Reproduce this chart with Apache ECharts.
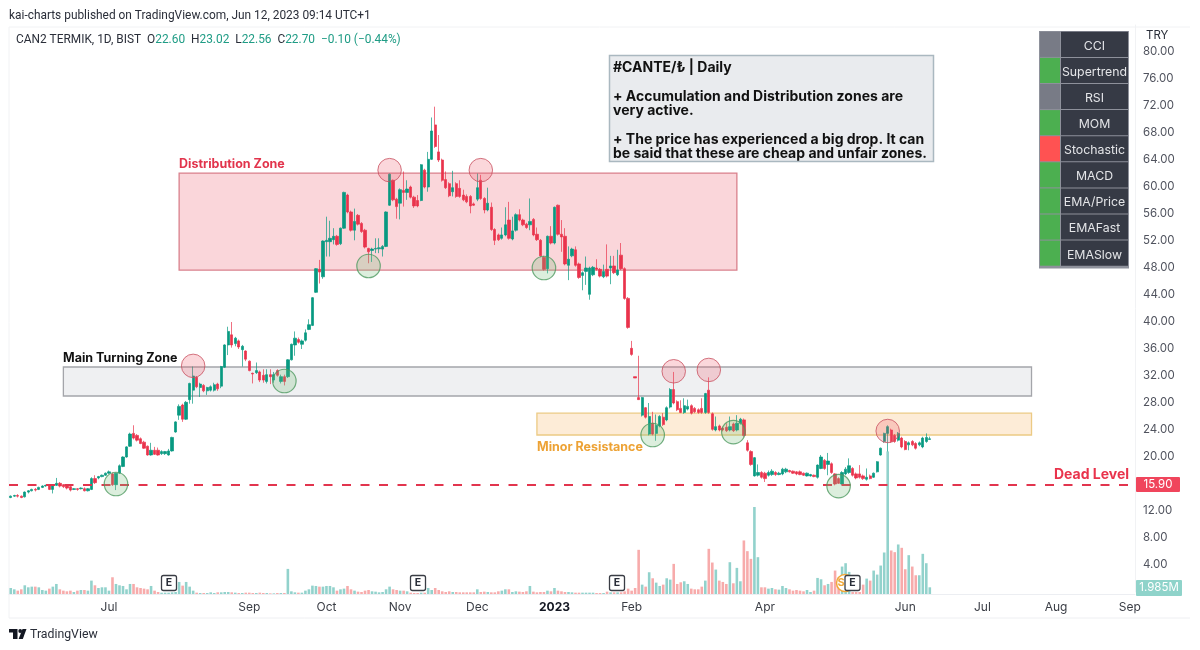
<!DOCTYPE html>
<html><head><meta charset="utf-8">
<style>html,body{margin:0;padding:0;background:#fff}#c{width:1200px;height:650px}</style>
<script src="https://cdn.jsdelivr.net/npm/echarts@6/dist/echarts.min.js"></script>
</head><body><div id="c"></div>
<script>
const opens=[14.0,14.2,14.3,14.2,14.1,14.8,15.0,15.2,15.2,15.5,
15.7,15.9,15.2,15.8,16.1,15.9,15.8,15.6,15.2,15.3,
15.3,15.3,15.0,15.2,16.8,16.9,17.1,17.3,17.6,17.5,
15.9,17.6,18.6,20.0,21.6,23.5,23.2,22.7,22.2,21.6,
20.3,21.0,21.0,20.5,20.5,20.3,20.9,23.7,26.2,27.7,
25.6,28.5,29.9,31.8,30.3,30.6,29.8,29.9,29.9,30.8,
30.5,33.3,36.6,38.1,36.8,37.2,35.9,35.7,34.2,32.4,
32.5,32.6,32.1,31.2,32.2,31.4,32.8,31.2,31.9,31.9,
34.4,36.6,37.4,36.7,37.3,38.9,39.5,44.4,47.8,46.7,
51.9,51.9,52.2,52.7,51.6,53.9,58.8,56.3,53.6,55.8,
54.6,53.6,50.9,50.6,50.8,50.85,50.8,51.2,57.3,61.0,
58.2,57.6,59.5,59.2,60.0,58.5,58.0,58.0,62.5,60.0,
64.1,69.2,65.2,64.0,61.1,60.5,59.3,60.5,59.8,58.8,
58.6,58.6,57.5,58.2,61.0,58.3,56.6,57.0,53.7,52.9,
52.4,52.9,55.1,52.3,53.6,55.9,55.1,54.5,54.4,55.2,
53.0,52.1,49.6,47.9,52.7,51.7,57.3,53.0,52.7,48.4,
49.8,50.7,48.6,46.9,47.5,44.1,47.0,48.0,47.8,46.7,
47.8,48.0,48.3,47.0,49.9,47.9,43.5,36.1,31.9,28.8,
26.2,27.3,23.4,25.0,23.5,24.6,25.9,25.5,27.4,30.0,
28.2,27.2,26.6,27.1,27.6,27.2,27.0,27.2,26.6,29.9,
26.4,24.0,24.6,24.3,24.4,24.0,24.9,24.0,25.0,25.5,
22.1,20.8,17.2,17.3,17.7,17.6,17.3,17.4,17.7,17.4,
17.5,17.8,18.0,17.9,17.8,17.8,17.6,17.2,17.2,17.3,
17.0,18.3,19.5,18.9,19.0,17.5,16.8,16.0,17.5,17.7,
18.3,17.5,17.5,17.2,16.7,17.2,17.0,17.8,20.3,22.3,
23.5,24.0,23.2,22.5,22.8,22.3,21.8,22.3,22.0,21.8,21.5,22.3,22.6];
const closes=[14.2,14.3,14.2,14.0,14.8,15.0,15.2,15.1,15.5,15.7,
15.8,15.2,15.9,16.1,15.7,15.6,15.4,15.1,15.3,15.2,
15.4,15.0,15.3,16.8,16.2,17.1,17.3,17.6,17.8,15.9,
17.6,18.7,20.0,21.5,23.4,22.8,22.5,22.0,21.3,20.3,
21.0,20.4,20.3,20.8,20.8,20.9,22.9,25.2,27.5,25.6,
28.1,30.9,32.0,30.4,30.8,29.8,30.3,30.4,30.7,30.1,
33.4,36.6,38.6,36.6,37.6,36.3,36.4,34.5,32.8,32.3,
32.8,31.4,31.4,32.2,31.9,32.2,32.1,31.9,31.2,34.4,
36.7,37.6,37.0,37.2,38.4,39.6,43.6,47.9,47.4,52.0,
52.1,52.4,52.7,51.5,53.9,59.2,56.3,53.6,54.9,54.5,
53.4,51.1,50.4,50.8,50.9,51.0,51.2,56.3,61.9,58.1,
57.1,59.6,59.2,59.7,58.5,57.2,57.2,63.3,60.0,64.1,
68.3,66.0,64.0,61.0,59.9,58.7,59.9,58.6,58.6,58.1,
57.8,57.2,57.3,59.9,58.3,56.6,57.6,53.7,52.1,52.2,
52.9,54.4,52.4,53.5,55.9,55.1,54.4,54.0,54.9,52.9,
52.2,49.8,47.8,52.7,51.7,57.0,53.0,52.6,48.6,49.3,
50.8,48.4,46.6,47.3,48.0,48.0,48.1,47.8,46.8,47.5,
46.8,48.3,47.3,47.7,47.9,43.5,39.2,35.2,31.7,28.5,
28.8,25.9,26.0,23.4,24.7,26.0,24.8,27.3,30.0,28.0,
27.0,26.6,27.6,27.5,26.5,26.7,26.6,26.6,29.4,26.6,
24.1,24.5,24.0,24.0,23.9,24.5,23.9,25.0,25.6,23.2,
21.0,18.9,19.9,17.7,17.0,16.8,17.7,17.9,17.4,17.6,
18.2,18.2,17.8,17.6,17.5,17.4,17.3,17.6,17.4,17.1,
18.8,20.0,18.3,19.4,17.7,16.0,16.1,17.7,18.2,18.7,
17.3,16.9,17.0,16.8,17.0,16.8,17.6,19.3,21.3,23.5,
24.5,22.3,22.3,23.5,21.5,21.1,22.1,21.8,21.3,22.1,22.8,22.9,22.7];
const lows=[13.9,14.1,14.0,13.9,14.0,14.6,14.9,14.9,15.1,15.4,
15.6,15.1,14.6,15.7,15.5,15.4,15.2,14.9,15.1,15.0,
15.2,14.9,14.9,15.1,16.0,16.7,17.0,17.2,17.5,15.7,
15.1,17.5,18.5,19.9,21.5,22.6,22.3,21.9,21.2,20.2,
20.2,20.3,20.2,20.3,20.3,20.2,20.8,23.6,25.5,25.2,
25.5,27.9,27.9,30.2,28.9,29.6,29.2,29.7,29.7,29.8,
30.2,33.2,35.1,36.2,36.4,36.0,33.4,34.2,32.7,30.9,
32.3,31.1,31.0,30.9,30.8,31.0,31.9,30.9,30.6,31.7,
34.3,35.0,36.8,36.0,37.1,38.8,39.4,44.3,45.7,46.4,
49.7,49.7,51.5,51.3,51.4,53.8,56.1,53.4,52.1,54.3,
53.2,50.9,48.7,48.9,50.2,50.2,49.7,51.1,57.2,57.9,
55.3,55.2,57.1,58.1,58.3,56.9,57.0,57.9,59.8,59.3,
64.0,65.8,63.7,60.8,59.7,58.5,58.6,58.4,58.4,57.9,
57.6,56.1,57.2,57.9,58.1,56.1,56.4,53.5,51.4,52.0,
52.2,52.7,52.2,52.1,53.4,54.9,54.2,53.8,53.6,52.7,
52.0,49.6,47.6,47.2,51.5,51.5,52.8,50.4,48.4,46.2,
49.6,48.2,46.4,44.7,45.5,43.3,46.8,47.6,46.6,46.5,
46.6,45.6,47.1,46.8,47.7,43.3,39.0,35.0,31.7,28.5,
26.0,25.7,23.2,23.2,22.4,24.4,24.6,25.3,27.2,27.8,
26.8,26.5,26.4,26.9,26.3,26.5,26.4,26.4,26.4,26.4,
23.9,23.8,23.8,23.8,23.7,23.8,23.7,23.8,24.8,23.0,
20.8,18.7,17.1,17.1,16.8,16.3,17.1,17.2,17.2,17.3,
17.3,17.6,17.7,17.5,17.3,17.3,17.2,17.1,17.1,17.0,
16.8,18.2,18.1,17.3,17.5,15.8,16.0,15.9,17.3,17.5,
17.1,16.7,16.8,16.6,16.5,16.7,16.9,17.7,20.2,22.1,
20.8,22.1,22.1,22.3,21.3,21.0,21.0,21.6,21.1,21.6,21.3,22.1,22.56];
const highs=[14.3,14.4,14.5,14.3,14.9,15.1,15.3,15.4,15.6,15.8,
15.9,16.0,16.0,16.9,16.3,16.0,15.9,15.7,15.4,15.4,
15.5,15.5,15.4,17.0,17.3,17.2,17.4,17.7,18.0,17.7,
17.7,18.9,20.1,21.6,23.6,24.7,23.4,22.9,22.4,21.7,
22.1,21.5,21.4,21.0,20.9,21.2,23.0,25.3,27.8,27.9,
28.3,31.0,33.4,32.0,31.0,30.8,30.4,30.6,31.0,31.0,
33.5,36.7,39.3,40.0,37.8,37.4,36.6,35.8,34.3,32.5,
34.0,32.8,33.0,33.0,33.0,32.6,33.0,32.2,32.2,34.5,
36.8,38.6,37.7,37.4,38.9,40.4,43.7,48.0,49.2,52.1,
55.6,55.0,53.9,52.9,54.0,59.3,59.0,56.5,56.8,56.0,
54.8,53.8,51.0,51.0,52.4,52.4,51.4,56.4,62.0,61.1,
58.4,59.8,62.3,61.0,60.2,58.7,58.8,63.4,62.7,65.2,
70.3,71.9,67.7,64.2,62.3,60.7,62.4,60.7,61.0,59.6,
58.9,58.8,57.7,62.0,61.8,58.5,59.9,57.7,53.9,53.1,
54.0,57.0,57.8,55.6,56.1,56.7,55.3,54.7,58.3,55.4,
54.0,52.3,49.8,52.8,54.2,57.1,57.4,55.1,53.9,51.2,
51.0,51.2,48.8,47.5,49.7,48.2,48.3,49.3,48.0,48.5,
51.5,49.8,49.8,50.7,51.7,48.1,43.7,37.2,31.9,35.0,
28.9,27.4,28.0,26.7,26.3,26.2,26.5,27.5,30.2,32.6,
28.4,28.4,28.7,28.5,27.8,27.4,27.2,28.7,29.5,31.8,
26.6,26.0,24.8,24.5,25.0,26.0,25.1,26.2,25.8,25.7,
22.5,21.0,20.0,18.9,17.9,17.8,18.0,18.2,17.9,17.8,
18.4,18.4,18.1,18.0,17.9,18.0,17.7,17.7,17.5,17.4,
18.9,20.3,19.7,20.6,19.2,17.6,17.0,17.9,18.5,19.8,
18.5,17.7,18.8,17.4,18.3,17.4,17.7,19.4,21.4,23.6,
24.7,24.2,23.4,23.7,23.0,22.5,22.3,22.5,22.2,22.3,23.0,23.5,23.02];
const volumes=[1.8,1.4,1.0,1.4,2.6,2.0,2.2,2.2,2.0,1.2,
1.0,1.6,2.2,3.0,1.4,1.0,.8,1.0,.6,1.0,
1.2,1.2,1.0,4.0,2.6,1.8,2.0,2.0,1.0,5.0,
3.0,2.6,2.4,1.4,3.0,3.0,2.0,1.8,1.6,1.4,
2.4,1.0,.6,.4,.4,.4,.5,.6,3.6,2.5,
3.6,2.2,1.0,.4,.3,.3,.3,.5,.3,.5,
.5,.6,.6,.5,.4,.3,.3,.4,.4,.3,
.3,.4,.3,.3,.2,.2,.3,.3,.3,7.5,
.8,.5,.4,.4,1.0,1.4,2.5,2.4,2.2,2.2,
2.4,2.4,2.0,1.0,1.4,1.6,2.4,1.4,1.0,.7,
.6,1.0,1.2,.8,.7,.5,.6,1.4,2.2,1.4,
1.2,1.0,1.0,.8,.4,.3,.3,.4,.4,1.8,
1.2,1.8,1.2,.8,.6,.8,.6,.6,.5,.5,
.5,.5,.5,1.4,.6,.7,.6,.5,.5,.8,
1.0,1.4,1.4,.6,.8,.7,.6,.8,2.4,.7,
.5,.6,.6,1.0,.8,1.8,1.0,.8,.6,.6,
.5,.4,.4,.4,.4,.4,.4,.3,.3,.3,
.7,.5,.5,.5,.5,.8,1.6,1.0,1.8,13.2,
2.8,2.2,6.5,4.7,3.4,2.4,2.8,4.7,4.3,9.0,
3.0,3.5,3.8,3.0,1.6,1.4,1.4,2.2,4.0,13.5,
9.4,7.3,4.0,3.6,3.0,9.5,3.2,7.8,3.8,16.0,
12.8,10.5,26.0,11.0,2.0,2.0,1.6,1.8,1.4,1.3,
2.4,1.8,1.4,1.0,1.2,1.0,.8,1.2,.6,1.0,
4.8,4.4,2.6,3.0,3.6,7.0,5.0,8.2,9.2,6.6,
.6,.6,.6,2.8,4.6,4.0,7.0,5.8,8.5,12.4,
42.6,13.0,12.5,14.8,13.8,7.4,11.6,8.2,5.6,5.6,12.0,9.2,2.0];
const slotCount=321;
const tickSlots=[28,68,90,111,133,155,177,215,255,277,298,319];
const tickLabels=['Jul','Sep','Oct','Nov','Dec','2023','Feb','Apr','Jun','Jul','Aug','Sep'];
const redCircleSlots=[52,108,134,189,199,250];
const redCirclePrices=[33.5,62.5,62.5,32.7,32.9,23.85];
const greenCircleSlots=[30,78,102,152,183,206,236];
const greenCirclePrices=[16,31.26,48.3,48,23.26,23.7,15.7];
const distributionZone={from:48,to:207,top:62.07,bottom:47.7};
const turningZone={from:15,to:291,top:33.33,bottom:29.04};
const minorZone={from:150,to:291,top:26.5,bottom:23.26};
const deadLevel=15.9;
const panelNames=['CCI','Supertrend','RSI','MOM','Stochastic','MACD','EMA/Price','EMAFast','EMASlow'];
const panelColors=['#787b86','#4caf50','#787b86','#4caf50','#ff5252','#4caf50','#4caf50','#4caf50','#4caf50'];

const FONT='Inter, "Liberation Sans", sans-serif';
const NARROW='Roboto, "Liberation Sans", sans-serif';
const UP='#089981',DOWN='#e9334c';
const cats=Array.from({length:slotCount},(_,i)=>'d'+i);
const candles=opens.map((o,i)=>[o,closes[i],lows[i],highs[i]]);
const zoneArea=(z,fill,border)=>[{xAxis:cats[z.from],yAxis:z.top,itemStyle:{color:fill,borderColor:border,borderWidth:1.3}},{xAxis:cats[z.to],yAxis:z.bottom}];

const txt=(x,y,text,fill,size,weight,extra)=>({type:'text',z:100,x,y,style:Object.assign({text,fill,fontSize:size,fontWeight:weight||'normal',fontFamily:FONT,verticalAlign:'middle'},extra||{})});
const graphic=[];
graphic.push({type:'line',z:0,shape:{x1:9,y1:618,x2:1190,y2:618},style:{stroke:'#eeeff2',lineWidth:1}});
graphic.push({type:'line',z:0,shape:{x1:9,y1:27,x2:9,y2:618},style:{stroke:'#f1f2f4',lineWidth:1}});
graphic.push({type:'line',z:0,shape:{x1:9,y1:27,x2:1190,y2:27},style:{stroke:'#f1f2f4',lineWidth:1}});
graphic.push(txt(9,16,'kai-charts published on TradingView.com, Jun 12, 2023 09:14 UTC+1','#2a2e39',11.9,'normal',{fontFamily:NARROW}));
graphic.push({type:'text',z:100,x:16,y:40,style:{text:'CAN2 TERMIK, 1D, BIST  {k|O}{v|22.60}  {k|H}{v|23.02}  {k|L}{v|22.56}  {k|C}{v|22.70}  {v|−0.10 (−0.44%)}',
 fill:'#2a2e39',fontSize:11.9,fontFamily:NARROW,verticalAlign:'middle',rich:{k:{fill:'#2a2e39',fontSize:11.9,fontFamily:NARROW},v:{fill:'#1f9c85',fontSize:11.9,fontFamily:NARROW}}}});
graphic.push(txt(1146,36,'TRY','#2a2e39',11.5));
graphic.push(txt(179,164,'Distribution Zone','#e2344c',12.5,'bold'));
graphic.push(txt(63,358.5,'Main Turning Zone','#111',12.5,'bold'));
graphic.push(txt(537,447,'Minor Resistance','#eda234',12.5,'bold'));
graphic.push(txt(1054,474.5,'Dead Level','#e9334c',14,'bold'));
// note box
graphic.push({type:'rect',z:100,shape:{x:609.5,y:55.5,width:324,height:106},style:{fill:'#e9ebee',stroke:'#aab8c0',lineWidth:1.5}});
graphic.push({type:'text',z:101,x:613,y:61,style:{text:'#CANTE/₺ | Daily\n\n+ Accumulation and Distribution zones are\nvery active.\n\n+ The price has experienced a big drop. It can\nbe said that these are cheap and unfair zones.',
 fill:'#111',fontSize:14,fontWeight:'bold',fontFamily:FONT,lineHeight:14.3,verticalAlign:'top'}});
// signal panel
const rowH=26.1,panelTop=31.8;
graphic.push({type:'rect',z:100,shape:{x:1039,y:31,width:90,height:237.5},style:{fill:'#8e919b'}});
panelNames.forEach((n,i)=>{
 const y=panelTop+i*rowH;
 graphic.push({type:'rect',z:101,shape:{x:1040,y:y,width:20,height:rowH-1},style:{fill:panelColors[i]}});
 graphic.push({type:'rect',z:101,shape:{x:1061,y:y,width:67,height:rowH-1},style:{fill:'#363a45'}});
 graphic.push({type:'text',z:102,x:1094.5,y:y+rowH/2+1.2,style:{text:n,fill:'#e4e5e8',fontSize:12.3,fontFamily:FONT,align:'center',verticalAlign:'middle'}});
});
// axis labels
graphic.push({type:'rect',z:100,shape:{x:1136,y:477,width:44,height:15,r:1},style:{fill:'#f0455c'}});
graphic.push({type:'text',z:101,x:1158,y:484.5,style:{text:'15.90',fill:'#fff',fontSize:11.5,fontFamily:FONT,align:'center',verticalAlign:'middle'}});
graphic.push({type:'rect',z:100,shape:{x:1136,y:580,width:46,height:16,r:1},style:{fill:'#8fd3ca'}});
graphic.push({type:'text',z:101,x:1159,y:588,style:{text:'1.985M',fill:'#fff',fontSize:11.5,fontFamily:FONT,align:'center',verticalAlign:'middle'}});
// dividend + earnings markers
graphic.push({type:'circle',z:100,shape:{cx:845,cy:583,r:8.5},style:{fill:'#fff',stroke:'#f1a83a',lineWidth:1.5}});
graphic.push({type:'text',z:101,x:841,y:583,style:{text:'S',fill:'#f1a83a',fontSize:11,fontWeight:'bold',fontFamily:FONT,align:'center',verticalAlign:'middle'}});
[161.5,410.5,609.5,845].forEach(x=>{
 graphic.push({type:'rect',z:102,shape:{x:x,y:575.5,width:15,height:15,r:2},style:{fill:'#fff',stroke:'#3a3d45',lineWidth:1.3}});
 graphic.push({type:'text',z:103,x:x+7.5,y:583,style:{text:'E',fill:'#2a2e39',fontSize:10.5,fontWeight:'bold',fontFamily:FONT,align:'center',verticalAlign:'middle'}});
});
// logo
graphic.push({type:'polygon',z:100,shape:{points:[[9,629],[17.5,629],[17.5,639],[13,639],[13,632.5],[9,632.5]]},style:{fill:'#131722'}});
graphic.push({type:'circle',z:100,shape:{cx:20.2,cy:631,r:1.9},style:{fill:'#131722'}});
graphic.push({type:'polygon',z:100,shape:{points:[[22.5,629],[26.5,629],[22.8,639],[18.6,639]]},style:{fill:'#131722'}});
graphic.push(txt(30,634.5,'TradingView','#2a2e39',12.3,'normal',{fontFamily:NARROW}));

const option={
 animation:false,backgroundColor:'#fff',
 textStyle:{fontFamily:FONT},
 graphic:{elements:graphic},
 grid:[{left:9,right:65,top:25,bottom:58},{left:9,right:65,top:25,bottom:56}],
 xAxis:[
  {type:'category',gridIndex:0,data:cats,show:false},
  {type:'category',gridIndex:1,data:cats,axisTick:{show:false},splitLine:{show:false},
   axisLine:{lineStyle:{color:'#eceef2'}},
   axisLabel:{color:'#3a3d45',fontSize:12,margin:7,fontFamily:FONT,
    interval:i=>tickSlots.includes(i),
    formatter:(v,i)=>{const k=tickSlots.indexOf(i);if(k<0)return '';return tickLabels[k]==='2023'?'{b|2023}':tickLabels[k];},
    rich:{b:{fontWeight:'bold',fontSize:12,color:'#131722',fontFamily:FONT}}}}
 ],
 yAxis:[
  {type:'value',gridIndex:0,position:'right',min:0,max:84,interval:4,splitLine:{show:false},axisTick:{show:false},
   axisLine:{show:true,lineStyle:{color:'#f1f2f4'}},
   axisLabel:{color:'#50535e',fontSize:11.5,margin:8,fontFamily:FONT,padding:[3,0,0,0],
    formatter:v=>(v===0||v===84||v===16)?'':v.toFixed(2)}},
  {type:'value',gridIndex:1,min:0,max:170,show:false}
 ],
 series:[
  {type:'bar',xAxisIndex:1,yAxisIndex:1,z:1,barWidth:2.6,silent:true,
   data:volumes.map((v,i)=>({value:v,itemStyle:{color:closes[i]>=opens[i]?'#92d2cc':'#f7abab'}}))},
  {type:'candlestick',xAxisIndex:0,yAxisIndex:0,z:3,barWidth:2.8,silent:true,data:candles,
   itemStyle:{color:UP,color0:DOWN,borderColor:UP,borderColor0:DOWN,borderWidth:0.7},
   markArea:{silent:true,data:[
     zoneArea(distributionZone,'rgba(244,170,178,0.48)','#d9808c'),
     zoneArea(turningZone,'rgba(218,220,225,0.42)','#a4a5aa'),
     zoneArea(minorZone,'rgba(250,205,150,0.38)','#ecca84')]},
   markLine:{silent:true,symbol:'none',label:{show:false},
     lineStyle:{color:'#e2354e',type:[9,9.5],width:2.2},data:[{yAxis:deadLevel}]}},
  {type:'scatter',xAxisIndex:0,yAxisIndex:0,z:5,symbolSize:23.5,silent:true,
   itemStyle:{color:'rgba(240,90,105,0.3)',borderColor:'#c8505f',borderWidth:1},
   data:redCircleSlots.map((s,i)=>[cats[s],redCirclePrices[i]])},
  {type:'scatter',xAxisIndex:0,yAxisIndex:0,z:5,symbolSize:23.5,silent:true,
   itemStyle:{color:'rgba(120,190,125,0.32)',borderColor:'#4f9a60',borderWidth:1.2},
   data:greenCircleSlots.map((s,i)=>[cats[s],greenCirclePrices[i]])}
 ]
};
echarts.init(document.getElementById('c')).setOption(option);
</script></body></html>
